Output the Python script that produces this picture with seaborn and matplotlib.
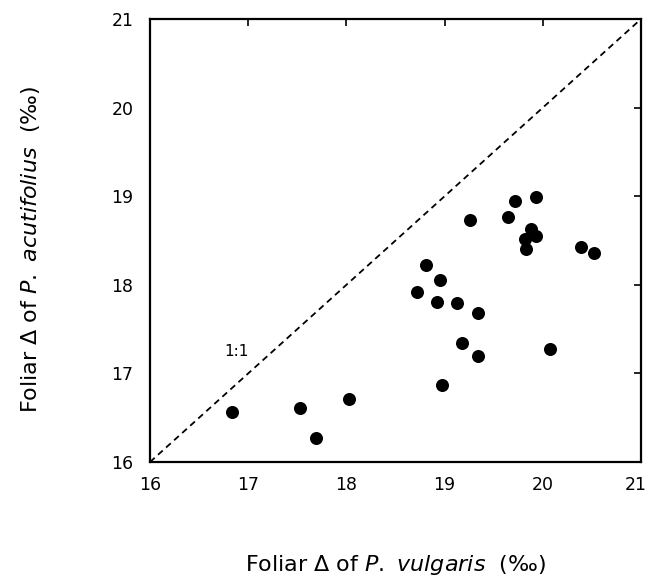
import matplotlib
matplotlib.use("Agg")
import matplotlib.pyplot as plt
import matplotlib.transforms as mtransforms
import seaborn as sns
import pandas as pd

# Data
vulgaris = [16.84, 17.53, 17.69, 18.03, 18.97, 18.72, 18.81, 18.95, 18.92, 19.13,
            19.34, 19.18, 19.34, 19.26, 19.65, 19.72, 19.93, 19.88, 19.93, 19.82,
            19.83, 20.39, 20.52, 20.07]
acutifolius = [16.56, 16.61, 16.27, 16.71, 16.87, 17.92, 18.22, 18.05, 17.81, 17.80,
               17.68, 17.34, 17.20, 18.73, 18.76, 18.95, 18.99, 18.63, 18.55, 18.52,
               18.40, 18.43, 18.36, 17.28]
ticks = [16, 17, 18, 19, 20, 21]
line_1to1 = [16, 21]

df = pd.DataFrame({"vulgaris": vulgaris, "acutifolius": acutifolius})

sns.set_theme(style="white")
plt.rcParams["font.family"] = ["DejaVu Sans"]
plt.rcParams["mathtext.fontset"] = "dejavusans"

fig = plt.figure(figsize=(6.49, 5.8), dpi=100)
ax = fig.add_axes([0.2311, 0.2034, 0.7566, 0.7638])

ax.plot(line_1to1, line_1to1, linestyle=(0, (3.5, 2.5)), color="black", linewidth=1.3, zorder=1)
sns.scatterplot(data=df, x="vulgaris", y="acutifolius", ax=ax, s=88, color="black",
                edgecolor="black", linewidth=0, zorder=3)

ax.text(16.88, 17.25, "1:1", fontsize=11, ha="center", va="center", color="black")

ax.set_xlim(16, 21)
ax.set_ylim(16, 21)
ax.set_xticks(ticks)
ax.set_yticks(ticks)
ax.tick_params(direction="in", length=5, width=1.2, top=True, right=True,
               labeltop=False, labelright=False, labelsize=12.5, colors="black")
ax.tick_params(axis="x", pad=10)
ax.tick_params(axis="y", pad=12)
for sp in ax.spines.values():
    sp.set_visible(True)
    sp.set_color("black")
    sp.set_linewidth(1.6)

ax.set_xlabel(r"Foliar Δ of $\mathit{P.\ vulgaris}$  (‰)", fontsize=16, color="black")
ax.set_ylabel(r"Foliar Δ of $\mathit{P.\ acutifolius}$  (‰)", fontsize=16, color="black")
ax.xaxis.set_label_coords(0.5, -0.205)
ax.yaxis.set_label_coords(-0.22, 0.48)

# keep the last x tick label inside the figure edge
fig.canvas.draw()
last = ax.get_xticklabels()[-1]
last.set_transform(last.get_transform() + mtransforms.ScaledTranslation(-4 / 72, 0, fig.dpi_scale_trans))

fig.savefig("out.png", dpi=100)
